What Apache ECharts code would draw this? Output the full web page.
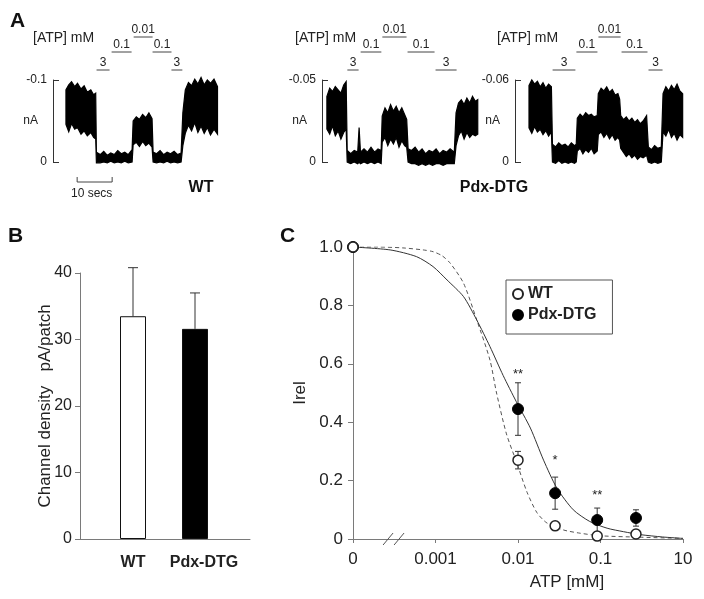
<!DOCTYPE html>
<html><head><meta charset="utf-8">
<script src="https://cdn.jsdelivr.net/npm/echarts@6/dist/echarts.min.js"></script>
<style>html,body{margin:0;padding:0;background:#fff}#c{width:704px;height:599px}</style>
</head><body><div id="c"></div>
<script>
// ---------------- Panel A: current traces  [time (s), upper envelope (nA), lower envelope (nA)]
const wtTrace = [
 [3.7,-0.088,-0.046],[4.5,-0.094,-0.037],[5.3,-0.098,-0.047],[6.2,-0.092,-0.040],[7.0,-0.096,-0.042],[8.0,-0.089,-0.034],[8.9,-0.093,-0.038],[9.8,-0.085,-0.032],[10.8,-0.088,-0.036],[11.6,-0.082,-0.030],[12.2,-0.084,-0.028],
 [12.4,-0.012,0.001],[13.5,-0.009,0.001],[14.5,-0.013,0.0],[15.5,-0.008,0.001],[16.5,-0.011,-0.001],[17.5,-0.009,0.001],[18.5,-0.014,0.0],[19.5,-0.010,0.001],[20.5,-0.012,-0.001],[21.5,-0.009,0.001],[22.6,-0.015,0.0],
 [22.9,-0.050,-0.021],[23.8,-0.055,-0.024],[24.7,-0.052,-0.019],[25.6,-0.058,-0.025],[26.5,-0.054,-0.020],[27.4,-0.060,-0.023],[28.3,-0.053,-0.018],
 [28.6,-0.012,0.0],[29.6,-0.010,0.001],[30.6,-0.014,0.0],[31.6,-0.009,0.001],[32.6,-0.012,-0.001],[33.6,-0.010,0.001],[34.6,-0.013,0.0],[35.6,-0.009,0.001],[36.6,-0.011,0.0],
 [37.1,-0.060,-0.020],[37.8,-0.088,-0.035],[38.7,-0.097,-0.045],[39.6,-0.093,-0.038],[40.5,-0.101,-0.048],[41.4,-0.095,-0.036],[42.3,-0.103,-0.044],[43.2,-0.094,-0.035],[44.1,-0.100,-0.042],[45.0,-0.096,-0.033],[46.0,-0.101,-0.040],[47.0,-0.092,-0.034]
];
const pdxTrace = [
 [1.4,-0.040,-0.020],[2.2,-0.045,-0.017],[3.0,-0.043,-0.022],[3.8,-0.046,-0.016],[4.6,-0.044,-0.019],[5.4,-0.042,-0.014],[6.2,-0.047,-0.018],[6.9,-0.049,-0.020],
 [7.2,-0.007,0.0],[8.2,-0.005,0.001],[9.2,-0.007,0.0],[10.2,-0.006,0.001],[10.6,-0.021,0.0],[11.0,-0.006,0.001],[12.0,-0.008,0.0],[13.0,-0.006,0.001],[14.0,-0.009,0.0],[15.0,-0.006,0.001],[16.0,-0.008,0.0],[16.9,-0.007,0.001],
 [17.2,-0.028,-0.012],[18.0,-0.033,-0.015],[18.8,-0.030,-0.010],[19.6,-0.035,-0.014],[20.4,-0.031,-0.011],[21.2,-0.034,-0.015],[22.0,-0.030,-0.009],[22.8,-0.033,-0.013],[23.6,-0.029,-0.010],[24.2,-0.026,-0.009],
 [24.6,-0.008,0.0],[25.6,-0.007,0.001],[26.6,-0.009,0.001],[27.6,-0.006,0.002],[28.6,-0.008,0.001],[29.6,-0.005,0.002],[30.6,-0.007,0.001],[31.6,-0.006,0.002],[32.6,-0.008,0.001],[33.6,-0.005,0.001],[34.6,-0.007,0.002],[35.6,-0.006,0.001],[36.6,-0.008,0.001],[37.8,-0.006,0.001],
 [38.3,-0.030,-0.010],[39.0,-0.036,-0.016],[39.8,-0.038,-0.019],[40.6,-0.035,-0.014],[41.4,-0.039,-0.018],[42.2,-0.036,-0.015],[43.0,-0.040,-0.017],[43.8,-0.037,-0.016],[44.5,-0.038,-0.017]
];
const pdx2Trace = [
 [4.0,-0.056,-0.025],[4.8,-0.060,-0.021],[5.6,-0.057,-0.026],[6.4,-0.059,-0.022],[7.2,-0.055,-0.024],[8.0,-0.058,-0.020],[8.8,-0.054,-0.023],[9.6,-0.057,-0.019],[10.4,-0.055,-0.022],
 [10.7,-0.013,0.0],[11.6,-0.011,0.001],[12.5,-0.014,-0.001],[13.4,-0.012,0.001],[14.3,-0.013,0.0],[15.2,-0.011,0.001],[16.1,-0.014,0.0],[17.0,-0.012,0.001],[17.5,-0.013,0.0],
 [17.8,-0.032,-0.008],[18.6,-0.035,-0.010],[19.4,-0.033,-0.006],[20.2,-0.036,-0.009],[21.0,-0.034,-0.007],[21.8,-0.035,-0.010],[22.6,-0.033,-0.006],[23.5,-0.034,-0.008],
 [23.8,-0.050,-0.020],[24.6,-0.054,-0.022],[25.4,-0.052,-0.018],[26.2,-0.055,-0.021],[27.0,-0.051,-0.017],[27.8,-0.053,-0.020],[28.6,-0.049,-0.016],[29.4,-0.050,-0.018],[29.9,-0.046,-0.016],
 [30.2,-0.034,-0.010],[31.0,-0.031,-0.007],[31.8,-0.033,-0.004],[32.6,-0.030,-0.006],[33.4,-0.032,-0.003],[34.2,-0.029,-0.005],[35.0,-0.031,-0.002],[35.8,-0.028,-0.004],[36.6,-0.030,-0.003],[37.6,-0.034,-0.005],
 [38.1,-0.011,0.0],[39.0,-0.009,0.001],[39.9,-0.012,0.0],[40.8,-0.010,0.001],[41.8,-0.011,0.0],
 [42.3,-0.050,-0.022],[43.1,-0.055,-0.019],[43.9,-0.052,-0.024],[44.7,-0.056,-0.018],[45.5,-0.053,-0.021],[46.3,-0.057,-0.016],[47.1,-0.052,-0.020],[47.9,-0.050,-0.018]
];
const traceScaleMax = [-0.1, -0.05, -0.06];
// ATP application periods: [start s, end s, tier]
const atpLabels = ['3','0.1','0.01','0.1','3'];
const wtAtpBars = [[12.3,16.3,0],[16.6,22.6,1],[22.9,28.6,2],[28.3,34.0,1],[33.7,37.1,0]];
const pdxAtpBars = [[7.1,10.6,0],[10.9,17.1,1],[17.1,24.3,2],[24.3,32.3,1],[32.3,38.6,0]];
const pdx2AtpBars = [[10.6,17.4,0],[17.4,23.7,1],[23.7,30.3,2],[30.3,38.0,1],[38.0,42.3,0]];
const timeBar = [[6.9, 10]]; // start (s), length (s)

// ---------------- Panel B
const bCategories = ['WT','Pdx-DTG'];
const bValues = [33.5, 31.6];
const bErrTop = [40.8, 37.0];

// ---------------- Panel C
const cTickLabels = ['0','0.001','0.01','0.1','10'];
const cX = [0, 2.0, 2.45, 2.96, 3.43];          // position on broken log axis
const wtIrel = [1.0, 0.27, 0.045, 0.01, 0.017];
const wtSem = [0, 0.03, 0.004, 0.003, 0.004];
const pdxIrel = [1.0, 0.445, 0.157, 0.065, 0.072];
const pdxSem = [0, 0.09, 0.055, 0.041, 0.028];
const starX = [2.0, 2.45, 2.96];
const starY = [0.565, 0.268, 0.148];
const starText = ['**','*','**'];
const wtFit = [[0,1.0],[0.3,1.0],[0.6,0.997],[0.85,0.99],[0.97,0.984],[1.08,0.97],[1.18,0.944],[1.34,0.876],[1.50,0.75],[1.66,0.613],[1.74,0.50],[1.86,0.36],[1.98,0.265],[2.11,0.16],[2.23,0.09],[2.35,0.055],[2.55,0.031],[2.75,0.02],[3.0,0.011],[3.5,0.006],[4.0,0.002]];
const pdxFit = [[0,1.0],[0.45,0.99],[0.77,0.967],[0.97,0.933],[1.14,0.887],[1.34,0.83],[1.50,0.75],[1.66,0.659],[1.82,0.56],[1.98,0.47],[2.15,0.38],[2.31,0.27],[2.47,0.175],[2.67,0.10],[2.87,0.06],[3.08,0.037],[3.28,0.025],[3.48,0.015],[3.75,0.007],[4.0,0.002]];

const FF = '"Liberation Sans", Arial, sans-serif';
const TXT = '#222';
const AX = '#7a7a7a';

const chart = echarts.init(document.getElementById('c'), null, {renderer:'canvas'});

function traceSeries(idx, rows) {
  return {
    type:'custom', xAxisIndex: idx, yAxisIndex: idx, clip:false, silent:true,
    data: rows, encode:{x:0, y:[1,2]},
    renderItem: function(params, api) {
      if (params.dataIndex !== 0) return null;
      const pts = [];
      for (let i = 0; i < rows.length; i++) pts.push(api.coord([rows[i][0], rows[i][1]]));
      for (let i = rows.length - 1; i >= 0; i--) pts.push(api.coord([rows[i][0], rows[i][2]]));
      return {type:'polygon', shape:{points:pts}, style:{fill:'#000', stroke:'#000', lineWidth:1.2, lineJoin:'miter'}};
    }
  };
}
const tierOffset = [10, 28, 43];
function atpSeries(idx, bars) {
  const topVal = traceScaleMax[idx];
  return {
    type:'custom', xAxisIndex: idx, yAxisIndex: idx, clip:false, silent:true,
    data: bars, encode:{x:[0,1]},
    renderItem: function(params, api) {
      const p1 = api.coord([api.value(0), topVal]);
      const p2 = api.coord([api.value(1), topVal]);
      const y = p1[1] - tierOffset[api.value(2)];
      return {type:'group', children:[
        {type:'line', shape:{x1:p1[0]+0.5, y1:y, x2:p2[0]-0.5, y2:y}, style:{stroke:'#444', lineWidth:1}},
        {type:'text', x:(p1[0]+p2[0])/2, y:y-1, style:{text:atpLabels[params.dataIndex], font:'12px '+FF, fill:TXT, align:'center', verticalAlign:'bottom'}}
      ]};
    }
  };
}
function traceYAxis(idx) {
  return {
    gridIndex: idx, type:'value', inverse:true, min: traceScaleMax[idx], max: 0, interval: -traceScaleMax[idx],
    axisLine:{show:true, lineStyle:{color:'#333', width:1}},
    axisTick:{show:true, inside:true, length:6, lineStyle:{color:'#333'}},
    axisLabel:{fontSize:12, fontFamily:FF, color:TXT, margin:6, formatter: v => v === 0 ? '0' : String(v)},
    splitLine:{show:false},
    name:'nA', nameLocation:'middle', nameRotate:0, nameGap:15, nameMoveOverlap:false,
    nameTextStyle:{fontSize:12, fontFamily:FF, color:TXT}
  };
}
function traceXAxis(idx, max) {
  return {gridIndex: idx, type:'value', min:0, max:max, show:false};
}

const option = {
  animation:false,
  backgroundColor:'#fff',
  grid:[
    {left:53, top:80, width:168, height:82},
    {left:322, top:80, width:168, height:82},
    {left:515, top:80, width:175, height:82},
    {left:80, top:273, width:170, height:266},
    {left:102, top:273, width:124, height:266},
    {left:353, top:247, width:330, height:292}
  ],
  xAxis:[
    traceXAxis(0, 48), traceXAxis(1, 48), traceXAxis(2, 50),
    {gridIndex:3, type:'value', min:0, max:1, axisLine:{show:true, onZero:false, lineStyle:{color:AX}}, axisTick:{show:false}, axisLabel:{show:false}, splitLine:{show:false}},
    {gridIndex:4, type:'category', data:bCategories, axisLine:{show:false}, axisTick:{show:false},
      axisLabel:{interval:0, fontSize:16, fontWeight:'bold', fontFamily:FF, color:TXT, margin:16,
        formatter:(v, i) => i === 1 ? '{p|' + v + '}' : v,
        rich:{p:{fontSize:16, fontWeight:'bold', fontFamily:FF, color:TXT, padding:[0,0,0,18]}}}},
    {gridIndex:5, type:'value', min:0, max:4, interval:1,
      axisLine:{show:true, onZero:false, lineStyle:{color:AX}}, axisTick:{show:true, length:4, lineStyle:{color:AX}},
      axisLabel:{fontSize:17, fontFamily:FF, color:TXT, margin:12, formatter: v => cTickLabels[Math.round(v)]},
      splitLine:{show:false},
      name:'ATP [mM]', nameLocation:'middle', nameGap:35, nameMoveOverlap:false,
      nameTextStyle:{fontSize:17, fontFamily:FF, color:TXT, padding:[0,0,0,98]}}
  ],
  yAxis:[
    traceYAxis(0), traceYAxis(1), traceYAxis(2),
    {gridIndex:3, type:'value', min:0, max:40, interval:10,
      axisLine:{show:true, lineStyle:{color:AX}}, axisTick:{show:true, length:5, lineStyle:{color:AX}},
      axisLabel:{fontSize:16, fontFamily:FF, color:TXT, margin:8}, splitLine:{show:false},
      name:'Channel density   pA/patch', nameLocation:'middle', nameGap:26, nameMoveOverlap:false,
      nameTextStyle:{fontSize:17, fontFamily:FF, color:TXT}},
    {gridIndex:4, type:'value', min:0, max:40, show:false},
    {gridIndex:5, type:'value', min:0, max:1, interval:0.2,
      axisLine:{show:true, lineStyle:{color:AX}}, axisTick:{show:true, length:5, lineStyle:{color:AX}},
      axisLabel:{fontSize:17, fontFamily:FF, color:TXT, margin:10, formatter: v => v === 0 ? '0' : v.toFixed(1)},
      splitLine:{show:false},
      name:'Irel', nameLocation:'middle', nameGap:44, nameMoveOverlap:false,
      nameTextStyle:{fontSize:17, fontFamily:FF, color:TXT}}
  ],
  legend:{
    data:[{name:'WT', icon:'circle'},{name:'Pdx-DTG', icon:'circle'}],
    orient:'vertical', left:506, top:280, itemWidth:10, itemHeight:10, itemGap:5,
    padding:[6,16,11,6], borderColor:'#555', borderWidth:1, selectedMode:false,
    textStyle:{fontSize:16, fontWeight:'bold', fontFamily:FF, color:TXT}
  },
  graphic:[
    {type:'text', left:10, top:11, style:{text:'A', font:'bold 21px '+FF, fill:'#111'}},
    {type:'text', left:8, top:226, style:{text:'B', font:'bold 21px '+FF, fill:'#111'}},
    {type:'text', left:280, top:226, style:{text:'C', font:'bold 21px '+FF, fill:'#111'}},
    {type:'text', x:33, y:38, style:{text:'[ATP] mM', font:'14px '+FF, fill:TXT, verticalAlign:'middle'}},
    {type:'text', x:295, y:38, style:{text:'[ATP] mM', font:'14px '+FF, fill:TXT, verticalAlign:'middle'}},
    {type:'text', x:497, y:38, style:{text:'[ATP] mM', font:'14px '+FF, fill:TXT, verticalAlign:'middle'}},
    {type:'text', x:201, y:188, style:{text:'WT', font:'bold 16px '+FF, fill:'#111', align:'center', verticalAlign:'middle'}},
    {type:'text', x:494, y:188, style:{text:'Pdx-DTG', font:'bold 16px '+FF, fill:'#111', align:'center', verticalAlign:'middle'}}
  ],
  series:[
    traceSeries(0, wtTrace), traceSeries(1, pdxTrace), traceSeries(2, pdx2Trace),
    atpSeries(0, wtAtpBars), atpSeries(1, pdxAtpBars), atpSeries(2, pdx2AtpBars),
    {type:'custom', xAxisIndex:0, yAxisIndex:0, clip:false, silent:true, data:timeBar, encode:{x:0},
      renderItem:function(params, api){
        const a = api.coord([api.value(0), 0]);
        const b = api.coord([api.value(0)+api.value(1), 0]);
        const y = a[1] + 20;
        return {type:'group', children:[
          {type:'polyline', shape:{points:[[a[0],y-5],[a[0],y],[b[0],y],[b[0],y-5]]}, style:{stroke:'#444', lineWidth:1, fill:null}},
          {type:'text', x:(a[0]+b[0])/2-3, y:y+12, style:{text:'10 secs', font:'12px '+FF, fill:TXT, align:'center', verticalAlign:'middle'}}
        ]};
      }},
    // Panel B bars
    {type:'bar', xAxisIndex:4, yAxisIndex:4, data:bValues, barWidth:26, z:2,
      itemStyle:{borderColor:'#111', borderWidth:1, opacity:1, color: p => p.dataIndex === 0 ? '#fff' : '#000'}},
    {type:'custom', xAxisIndex:4, yAxisIndex:4, silent:true, z:1,
      data: bValues.map((v,i) => [i, v, bErrTop[i]]), encode:{x:0, y:[1,2]},
      renderItem:function(params, api){
        const p0 = api.coord([api.value(0), api.value(1)]);
        const p1 = api.coord([api.value(0), api.value(2)]);
        return {type:'group', children:[
          {type:'line', shape:{x1:p0[0], y1:p0[1], x2:p1[0], y2:p1[1]}, style:{stroke:'#333', lineWidth:1}},
          {type:'line', shape:{x1:p1[0]-5, y1:p1[1], x2:p1[0]+5, y2:p1[1]}, style:{stroke:'#333', lineWidth:1}}
        ]};
      }},
    // Panel C
    {name:'WT fit', type:'line', xAxisIndex:5, yAxisIndex:5, data:wtFit, smooth:0.25, symbol:'none', silent:true,
      lineStyle:{color:'#555', width:1, type:[4,3]}},
    {name:'Pdx-DTG fit', type:'line', xAxisIndex:5, yAxisIndex:5, data:pdxFit, smooth:0.25, symbol:'none', silent:true,
      lineStyle:{color:'#333', width:1}},
    {type:'custom', xAxisIndex:5, yAxisIndex:5, silent:true, clip:false,
      data: cX.map((x,i) => [x, pdxIrel[i]-pdxSem[i], pdxIrel[i]+pdxSem[i]]).concat(cX.map((x,i) => [x, wtIrel[i]-wtSem[i], wtIrel[i]+wtSem[i]])),
      encode:{x:0, y:[1,2]},
      renderItem:function(params, api){
        if (api.value(2) - api.value(1) <= 0) return null;
        const lo = api.coord([api.value(0), api.value(1)]);
        const hi = api.coord([api.value(0), api.value(2)]);
        return {type:'group', children:[
          {type:'line', shape:{x1:lo[0], y1:lo[1], x2:hi[0], y2:hi[1]}, style:{stroke:'#333', lineWidth:1}},
          {type:'line', shape:{x1:lo[0]-3, y1:lo[1], x2:lo[0]+3, y2:lo[1]}, style:{stroke:'#333', lineWidth:1}},
          {type:'line', shape:{x1:hi[0]-3, y1:hi[1], x2:hi[0]+3, y2:hi[1]}, style:{stroke:'#333', lineWidth:1}}
        ]};
      }},
    {name:'Pdx-DTG', type:'scatter', xAxisIndex:5, yAxisIndex:5, symbol:'circle', symbolSize:11, clip:false, z:3,
      data: cX.map((x,i) => [x, pdxIrel[i]]),
      itemStyle:{color:'#000', borderColor:'#000', borderWidth:1, opacity:1}},
    {name:'WT', type:'scatter', xAxisIndex:5, yAxisIndex:5, symbol:'circle', symbolSize:10, clip:false, z:4,
      data: cX.map((x,i) => [x, wtIrel[i]]),
      itemStyle:{color:'#fff', borderColor:'#222', borderWidth:1.5, opacity:1}},
    {type:'custom', xAxisIndex:5, yAxisIndex:5, silent:true,
      data: starX.map((x,i) => [x, starY[i]]), encode:{x:0, y:1},
      renderItem:function(params, api){
        const p = api.coord([api.value(0), api.value(1)]);
        return {type:'text', x:p[0], y:p[1], style:{text:starText[params.dataIndex], font:'13px '+FF, fill:TXT, align:'center', verticalAlign:'middle'}};
      }},
    {type:'custom', xAxisIndex:5, yAxisIndex:5, silent:true, clip:false, data:[[0.51, 0]], encode:{x:0, y:1},
      renderItem:function(params, api){
        const p = api.coord([api.value(0), api.value(1)]);
        return {type:'group', children:[
          {type:'line', shape:{x1:p[0]-12, y1:p[1]+6, x2:p[0]-2, y2:p[1]-6}, style:{stroke:'#555', lineWidth:1}},
          {type:'line', shape:{x1:p[0]-1, y1:p[1]+6, x2:p[0]+9, y2:p[1]-6}, style:{stroke:'#555', lineWidth:1}}
        ]};
      }}
  ]
};
chart.setOption(option);
</script></body></html>
